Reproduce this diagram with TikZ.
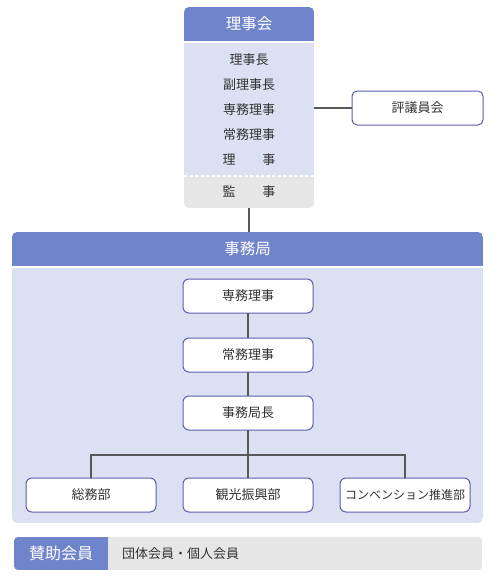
\documentclass[tikz,border=0pt]{standalone}
\usepackage{fontspec}
\setmainfont{Noto Sans CJK JP}
\definecolor{hdrblue}{HTML}{7084CB}
\definecolor{lightblue}{HTML}{DBE1F3}
\definecolor{lgray}{HTML}{E6E6E6}
\definecolor{bordblue}{HTML}{5B5FAE}
\definecolor{linegray}{HTML}{585858}
\definecolor{txt}{HTML}{333333}
\begin{document}
\begin{tikzpicture}[x=1pt,y=-1pt,
  every node/.style={inner sep=0pt, outer sep=0pt, font=\fontsize{13}{15}\selectfont, text=txt},
  hdr/.style={fill=hdrblue, text=white, font=\fontsize{15.5}{18}\selectfont},
  orgbox/.style={draw=bordblue, line width=1pt, fill=white, rounded corners=6pt, minimum width=130pt, minimum height=34pt},
  conn/.style={draw=linegray, line width=1.8pt},
  row/.style={font=\fontsize{13}{15}\selectfont}
]
\useasboundingbox (0,0) rectangle (496,578);
% ---- 理事会 box
\begin{scope}
\clip[rounded corners=5pt] (184,7) rectangle (314,208);
\node[hdr, minimum width=130pt, minimum height=34pt] (riji) at (249,24) {理事会};
\node[fill=lightblue, minimum width=130pt, minimum height=133pt] (rijibody) at (249,109.5) {};
\node[fill=lgray, minimum width=130pt, minimum height=32pt] (kanji) at (249,192) {};
\draw[white, line width=2pt] (184,42) -- (314,42);
\draw[white, line width=2pt, dash pattern=on 3pt off 2.5pt] (184,176) -- (314,176);
\end{scope}
\node[row] (r1) at (249,60) {理事長};
\node[row] (r2) at (249,85) {副理事長};
\node[row] (r3) at (249,110) {専務理事};
\node[row] (r4) at (249,135) {常務理事};
\node[row] (r5) at (249,160) {\hbox to 53pt{理\hfil 事}};
\node[row] (r6) at (249,192) {\hbox to 53pt{監\hfil 事}};
% 評議員会
\node[orgbox, minimum width=131pt, rounded corners=5pt] (hyogi) at (417.5,108) {評議員会};
\draw[conn] (rijibody.east |- hyogi.west) -- (hyogi.west);
% ---- 事務局 box
\begin{scope}
\clip[rounded corners=5pt] (12,232) rectangle (483,523);
\node[hdr, minimum width=471pt, minimum height=34pt] (jimu) at (247.5,249) {事務局};
\node[fill=lightblue, minimum width=471pt, minimum height=256pt] (jimubody) at (247.5,395) {};
\draw[white, line width=2pt] (12,267) -- (483,267);
\end{scope}
\draw[conn] (kanji.south -| 249,0) -- (jimu.north -| 249,0);
% inner boxes
\node[orgbox] (b1) at (248,296) {専務理事};
\node[orgbox] (b2) at (248,355) {常務理事};
\node[orgbox] (b3) at (248,413) {事務局長};
\node[orgbox] (d1) at (91,495) {総務部};
\node[orgbox] (d2) at (248,495) {観光振興部};
\node[orgbox, font=\fontsize{12}{14}\selectfont] (d3) at (405,495) {コンベンション推進部};
\coordinate (br) at (248,455);
\draw[conn] (b1) -- (b2);
\draw[conn] (b2) -- (b3);
\draw[conn] (b3) -- (d2);
\draw[conn] (d1.north) |- (br) -| (d3.north);
% ---- 賛助会員
\begin{scope}
\clip[rounded corners=4pt] (14,537) rectangle (482,570);
\node[hdr, minimum width=94pt, minimum height=33pt, font=\fontsize{16}{18}\selectfont] (sanjo) at (61,553.5) {賛助会員};
\node[fill=lgray, minimum width=374pt, minimum height=33pt] (sanjob) at (295,553.5) {};
\end{scope}
\node[anchor=west] (members) at (122,553.5) {団体会員・個人会員};
\end{tikzpicture}
\end{document}
